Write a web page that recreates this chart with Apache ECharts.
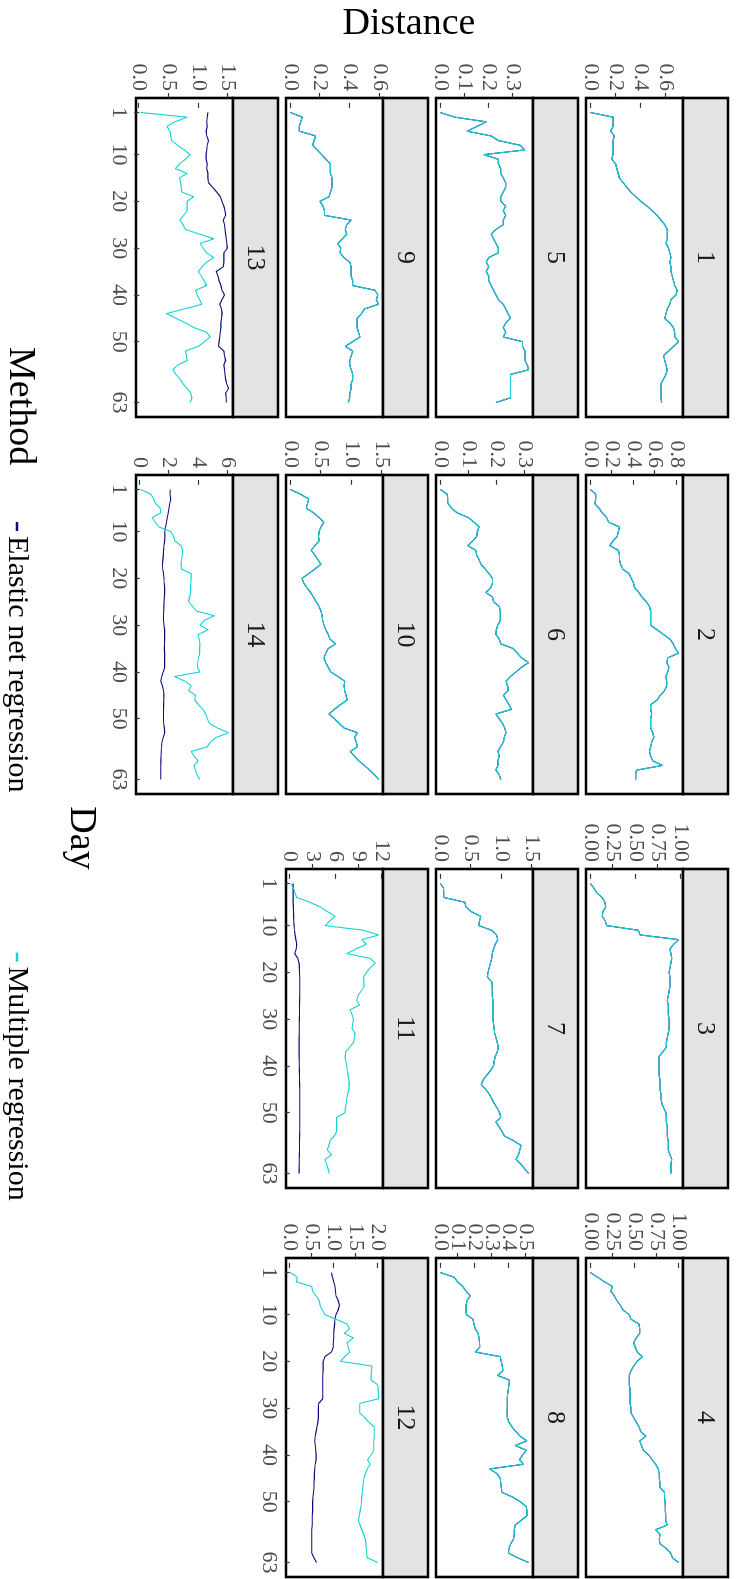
<!DOCTYPE html>
<html>
<head>
<meta charset="utf-8">
<script src="https://cdn.jsdelivr.net/npm/echarts@6/dist/echarts.min.js"></script>
<style>
  html, body { margin: 0; padding: 0; background: #fff; overflow: hidden; }
  #page { width: 736px; height: 1579px; position: relative; overflow: hidden; }
  /* the figure is drawn landscape, then turned a quarter clockwise */
  #chart {
    position: absolute; left: 0; top: 0;
    width: 1579px; height: 736px;
    transform-origin: 0 0;
    transform: translateX(736px) rotate(90deg);
  }
</style>
</head>
<body>
<div id="page"><div id="chart"></div></div>
<script>
    const days = Array.from({length: 63}, (_, i) => i + 1)
    const dayTicks = [1, 10, 20, 30, 40, 50, 63]
    const panelNames = ['1', '2', '3', '4', '5', '6', '7', '8', '9', '10', '11', '12', '13', '14']
    const yTicks = [
        [0, 0.2, 0.4, 0.6], [0, 0.2, 0.4, 0.6, 0.8], [0, 0.25, 0.5, 0.75, 1], [0, 0.25, 0.5, 0.75, 1],
        [0, 0.1, 0.2, 0.3], [0, 0.1, 0.2, 0.3], [0, 0.5, 1, 1.5], [0, 0.1, 0.2, 0.3, 0.4, 0.5],
        [0, 0.2, 0.4, 0.6], [0, 0.5, 1, 1.5], [0, 3, 6, 9, 12], [0, 0.5, 1, 1.5, 2],
        [0, 0.5, 1, 1.5], [0, 2, 4, 6]
    ]
    const yDecimals = [1, 1, 2, 2, 1, 1, 1, 1, 1, 1, 0, 1, 1, 0]

    // Multiple regression, one array per district
    const multiple1 = [0.00, 0.18, 0.18, 0.18, 0.16, 0.19, 0.18, 0.18, 0.18, 0.18,
        0.17, 0.20, 0.21, 0.22, 0.23, 0.26, 0.29, 0.32, 0.36, 0.40,
        0.45, 0.49, 0.53, 0.56, 0.59, 0.61, 0.61, 0.61, 0.60, 0.62,
        0.63, 0.64, 0.63, 0.64, 0.64, 0.65, 0.66, 0.67, 0.69, 0.68,
        0.64, 0.63, 0.61, 0.60, 0.59, 0.63, 0.66, 0.67, 0.67, 0.70,
        0.66, 0.62, 0.58, 0.59, 0.60, 0.61, 0.60, 0.58, 0.56, 0.56,
        0.56, 0.56, 0.565]
    const multiple2 = [0.00, 0.05, 0.05, 0.04, 0.08, 0.11, 0.15, 0.17, 0.27, 0.26,
        0.25, 0.21, 0.18, 0.26, 0.27, 0.27, 0.28, 0.30, 0.36, 0.38,
        0.40, 0.41, 0.45, 0.48, 0.52, 0.55, 0.56, 0.56, 0.56, 0.56,
        0.62, 0.68, 0.74, 0.77, 0.79, 0.82, 0.72, 0.71, 0.73, 0.72,
        0.70, 0.71, 0.71, 0.69, 0.65, 0.62, 0.56, 0.56, 0.57, 0.56,
        0.56, 0.56, 0.58, 0.59, 0.57, 0.56, 0.55, 0.56, 0.58, 0.67,
        0.43, 0.42, 0.42]
    const multiple3 = [0.00, 0.04, 0.07, 0.13, 0.16, 0.17, 0.14, 0.13, 0.165, 0.18,
        0.53, 0.55, 0.975, 0.92, 0.88, 0.89, 0.90, 0.89, 0.88, 0.87,
        0.88, 0.88, 0.88, 0.87, 0.86, 0.85, 0.86, 0.86, 0.86, 0.87,
        0.87, 0.87, 0.86, 0.85, 0.84, 0.84, 0.80, 0.76, 0.76, 0.76,
        0.76, 0.76, 0.77, 0.77, 0.77, 0.78, 0.78, 0.79, 0.81, 0.835,
        0.84, 0.84, 0.85, 0.85, 0.85, 0.86, 0.86, 0.86, 0.88, 0.90,
        0.89, 0.89, 0.89]
    const multiple4 = [0.00, 0.08, 0.16, 0.25, 0.23, 0.27, 0.30, 0.34, 0.37, 0.44,
        0.46, 0.55, 0.56, 0.56, 0.52, 0.49, 0.51, 0.53, 0.59, 0.53,
        0.49, 0.46, 0.44, 0.44, 0.44, 0.45, 0.45, 0.45, 0.45, 0.46,
        0.46, 0.49, 0.52, 0.55, 0.57, 0.63, 0.56, 0.58, 0.60, 0.66,
        0.70, 0.74, 0.77, 0.78, 0.78, 0.79, 0.79, 0.84, 0.84, 0.845,
        0.85, 0.85, 0.855, 0.855, 0.87, 0.74, 0.79, 0.78, 0.79, 0.86,
        0.91, 0.93, 1.00]
    const multiple5 = [0.00, 0.06, 0.19, 0.15, 0.11, 0.21, 0.24, 0.33, 0.35, 0.18,
        0.24, 0.24, 0.25, 0.25, 0.26, 0.27, 0.27, 0.26, 0.25, 0.25,
        0.27, 0.26, 0.27, 0.26, 0.26, 0.23, 0.21, 0.22, 0.23, 0.24,
        0.24, 0.20, 0.19, 0.20, 0.19, 0.20, 0.20, 0.21, 0.22, 0.23,
        0.24, 0.26, 0.27, 0.28, 0.29, 0.27, 0.26, 0.27, 0.26, 0.34,
        0.34, 0.35, 0.35, 0.35, 0.36, 0.365, 0.29, 0.29, 0.29, 0.29,
        0.29, 0.29, 0.23]
    const multiple6 = [0.00, 0.024, 0.026, 0.027, 0.04, 0.06, 0.10, 0.12, 0.138, 0.132,
        0.13, 0.115, 0.098, 0.126, 0.13, 0.138, 0.145, 0.16, 0.174, 0.186,
        0.186, 0.18, 0.162, 0.186, 0.19, 0.21, 0.214, 0.214, 0.214, 0.205,
        0.20, 0.198, 0.21, 0.216, 0.26, 0.275, 0.29, 0.315, 0.29, 0.27,
        0.25, 0.234, 0.24, 0.242, 0.225, 0.235, 0.245, 0.254, 0.198, 0.21,
        0.222, 0.23, 0.234, 0.228, 0.225, 0.215, 0.206, 0.21, 0.205, 0.206,
        0.198, 0.21, 0.216]
    const multiple7 = [0.00, 0.05, 0.055, 0.06, 0.40, 0.42, 0.50, 0.66, 0.64, 0.63,
        0.84, 0.92, 0.94, 0.90, 0.87, 0.85, 0.84, 0.82, 0.80, 0.78,
        0.77, 0.84, 0.85, 0.85, 0.85, 0.86, 0.86, 0.86, 0.86, 0.86,
        0.87, 0.88, 0.89, 0.91, 0.93, 0.95, 0.93, 0.90, 0.88, 0.87,
        0.82, 0.76, 0.70, 0.67, 0.74, 0.80, 0.84, 0.88, 0.93, 0.97,
        0.99, 0.91, 0.96, 1.01, 1.05, 1.20, 1.32, 1.30, 1.28, 1.24,
        1.32, 1.38, 1.445]
    const multiple8 = [0.00, 0.08, 0.10, 0.13, 0.15, 0.174, 0.155, 0.15, 0.15, 0.151,
        0.19, 0.195, 0.203, 0.22, 0.225, 0.228, 0.229, 0.203, 0.349, 0.355,
        0.36, 0.364, 0.333, 0.403, 0.40, 0.395, 0.392, 0.39, 0.39, 0.39,
        0.388, 0.39, 0.40, 0.417, 0.44, 0.465, 0.504, 0.436, 0.50, 0.48,
        0.461, 0.484, 0.287, 0.33, 0.349, 0.352, 0.355, 0.359, 0.42, 0.465,
        0.50, 0.505, 0.504, 0.47, 0.436, 0.43, 0.43, 0.426, 0.41, 0.40,
        0.397, 0.45, 0.514]
    const multiple9 = [0.00, 0.08, 0.07, 0.06, 0.06, 0.17, 0.16, 0.15, 0.18, 0.21,
        0.24, 0.27, 0.27, 0.27, 0.28, 0.28, 0.28, 0.27, 0.26, 0.20,
        0.22, 0.23, 0.23, 0.41, 0.38, 0.37, 0.38, 0.35, 0.32, 0.34,
        0.335, 0.36, 0.40, 0.41, 0.41, 0.41, 0.42, 0.42, 0.57, 0.59,
        0.58, 0.595, 0.50, 0.48, 0.45, 0.45, 0.45, 0.46, 0.47, 0.42,
        0.37, 0.42, 0.41, 0.40, 0.40, 0.41, 0.42, 0.42, 0.41, 0.41,
        0.40, 0.40, 0.39]
    const multiple10 = [0.00, 0.16, 0.30, 0.28, 0.26, 0.38, 0.47, 0.55, 0.50, 0.47,
        0.46, 0.47, 0.40, 0.34, 0.40, 0.45, 0.50, 0.40, 0.30, 0.19,
        0.22, 0.27, 0.33, 0.38, 0.42, 0.47, 0.50, 0.52, 0.53, 0.55,
        0.58, 0.62, 0.65, 0.74, 0.62, 0.58, 0.55, 0.58, 0.62, 0.66,
        0.78, 0.89, 0.88, 0.89, 0.91, 0.93, 0.82, 0.72, 0.63, 0.72,
        0.80, 0.88, 1.10, 1.05, 1.08, 1.10, 0.98, 1.05, 1.12, 1.21,
        1.30, 1.38, 1.445]
    const multiple11 = [0.09, 0.50, 0.70, 0.90, 2.62, 3.95, 4.90, 5.90, 5.20, 4.60,
        9.61, 11.57, 9.39, 9.96, 8.60, 7.42, 10.48, 11.14, 10.50, 10.00,
        9.61, 9.65, 9.69, 9.30, 8.90, 8.73, 9.08, 7.86, 8.10, 8.30,
        8.20, 8.10, 8.52, 8.40, 8.30, 7.80, 7.30, 7.21, 7.30, 7.42,
        7.50, 7.60, 7.70, 7.77, 7.70, 7.55, 7.42, 7.35, 7.25, 7.21,
        6.11, 6.11, 6.11, 6.11, 5.80, 5.24, 5.10, 4.89, 5.46, 4.59,
        4.80, 5.00, 5.15]
    const multiple12 = [0.015, 0.17, 0.15, 0.50, 0.52, 0.60, 0.67, 0.69, 0.74, 0.80,
        1.05, 1.30, 1.36, 1.24, 1.45, 1.30, 1.33, 1.36, 1.25, 1.15,
        1.87, 1.86, 1.85, 1.85, 2.00, 2.01, 2.02, 2.02, 1.59, 1.59,
        1.59, 1.70, 1.80, 1.92, 1.92, 1.92, 1.91, 1.91, 1.91, 1.85,
        1.77, 1.83, 1.76, 1.72, 1.69, 1.67, 1.66, 1.65, 1.64, 1.63,
        1.62, 1.60, 1.58, 1.56, 1.60, 1.64, 1.68, 1.72, 1.73, 1.74,
        1.75, 1.76, 2.00]
    const multiple13 = [0.02, 0.81, 0.60, 0.47, 0.52, 0.53, 0.55, 0.65, 0.76, 0.86,
        0.78, 0.68, 0.61, 0.81, 0.68, 0.70, 0.71, 0.72, 0.92, 0.81,
        0.81, 0.81, 0.75, 0.69, 0.74, 0.78, 1.02, 1.26, 1.03, 1.08,
        1.14, 1.26, 1.14, 1.06, 1.00, 1.05, 1.10, 1.14, 0.95, 0.98,
        1.02, 1.06, 0.76, 0.46, 0.62, 0.78, 0.93, 1.14, 1.20, 1.10,
        1.00, 0.78, 0.80, 0.81, 0.65, 0.57, 0.62, 0.69, 0.74, 0.81,
        0.87, 0.89, 0.86]
    const multiple14 = [0.05, 0.75, 0.95, 1.08, 1.40, 1.43, 0.85, 1.05, 1.32, 2.12,
        2.31, 2.40, 2.80, 2.93, 2.90, 2.85, 2.82, 2.83, 3.51, 3.50,
        3.48, 3.47, 3.46, 3.40, 3.33, 3.60, 3.86, 5.08, 4.40, 4.09,
        4.67, 3.97, 4.05, 4.10, 4.08, 4.09, 4.00, 3.95, 3.93, 4.09,
        2.36, 3.10, 3.51, 3.33, 3.80, 3.75, 4.00, 4.30, 4.50, 4.60,
        4.75, 5.30, 6.05, 5.20, 4.80, 4.60, 3.51, 3.70, 3.97, 3.70,
        3.80, 3.90, 4.09]

    // Elastic net: panels 1-10 lie on top of the multiple regression line
    const elastic11 = [0.44, 0.44, 0.44, 0.44, 0.45, 0.47, 0.49, 0.51, 0.53, 0.58,
        0.63, 0.70, 0.80, 0.92, 0.85, 0.65, 1.05, 1.22, 1.26, 1.28,
        1.30, 1.31, 1.31, 1.30, 1.30, 1.29, 1.28, 1.28, 1.27, 1.26,
        1.25, 1.24, 1.24, 1.23, 1.22, 1.22, 1.22, 1.23, 1.24, 1.25,
        1.26, 1.27, 1.28, 1.29, 1.30, 1.30, 1.31, 1.31, 1.31, 1.31,
        1.31, 1.31, 1.30, 1.30, 1.29, 1.28, 1.28, 1.27, 1.26, 1.25,
        1.24, 1.23, 1.22]
    const elastic12 = [0.95, 0.97, 1.00, 1.03, 1.04, 1.05, 1.10, 1.13, 1.10, 1.05,
        1.03, 1.02, 1.01, 1.00, 1.00, 0.99, 0.99, 0.95, 0.80, 0.76,
        0.76, 0.76, 0.75, 0.75, 0.75, 0.75, 0.75, 0.75, 0.66, 0.65,
        0.65, 0.65, 0.64, 0.62, 0.60, 0.58, 0.57, 0.58, 0.59, 0.60,
        0.60, 0.58, 0.57, 0.56, 0.56, 0.55, 0.55, 0.54, 0.53, 0.52,
        0.52, 0.52, 0.51, 0.51, 0.51, 0.50, 0.50, 0.50, 0.50, 0.50,
        0.50, 0.55, 0.61]
    const elastic13 = [1.16, 1.15, 1.14, 1.15, 1.13, 1.14, 1.17, 1.15, 1.14, 1.13,
        1.13, 1.15, 1.14, 1.16, 1.16, 1.17, 1.24, 1.31, 1.37, 1.40,
        1.43, 1.45, 1.46, 1.42, 1.44, 1.45, 1.46, 1.47, 1.48, 1.49,
        1.43, 1.43, 1.43, 1.42, 1.30, 1.33, 1.35, 1.38, 1.40, 1.44,
        1.40, 1.36, 1.39, 1.40, 1.39, 1.38, 1.38, 1.37, 1.36, 1.35,
        1.34, 1.43, 1.44, 1.46, 1.43, 1.44, 1.45, 1.46, 1.48, 1.51,
        1.46, 1.47, 1.47]
    const elastic14 = [2.08, 2.06, 2.12, 2.05, 2.00, 1.94, 1.88, 1.82, 1.76, 1.71,
        1.72, 1.70, 1.66, 1.63, 1.61, 1.58, 1.55, 1.57, 1.62, 1.66,
        1.67, 1.70, 1.71, 1.68, 1.66, 1.65, 1.64, 1.62, 1.62, 1.66,
        1.70, 1.71, 1.70, 1.69, 1.68, 1.70, 1.71, 1.70, 1.71, 1.60,
        1.50, 1.43, 1.55, 1.62, 1.66, 1.64, 1.63, 1.62, 1.62, 1.62,
        1.64, 1.68, 1.71, 1.60, 1.52, 1.48, 1.47, 1.45, 1.44, 1.43,
        1.43, 1.43, 1.43]

    const multipleReg = [multiple1, multiple2, multiple3, multiple4, multiple5, multiple6, multiple7,
        multiple8, multiple9, multiple10, multiple11, multiple12, multiple13, multiple14]
    const elasticNet = [multiple1, multiple2, multiple3, multiple4, multiple5, multiple6, multiple7,
        multiple8, multiple9, multiple10, elastic11, elastic12, elastic13, elastic14]

    const FONT = '"Liberation Serif", "DejaVu Serif", serif'
    const NAVY = '#0c0c78'
    const CYAN = '#14d2d6'
    const colLeft = [98, 475, 869, 1258]
    const rowTop = [8, 158, 308, 458]
    const panelW = 319, stripH = 45, plotH = 97

    let grids = [], xAxes = [], yAxes = [], series = [], graphics = []

    multipleReg.forEach((mr, i) => {
        let row = Math.floor(i / 4), col = i % 4
        let showDays = i >= 10
        grids.push({
            left: colLeft[col], top: rowTop[row] + stripH, width: panelW, height: plotH,
            show: true, backgroundColor: '#fff', borderColor: '#000', borderWidth: 2.6
        })
        let all = mr.concat(elasticNet[i])
        let lo = Math.min(...all), hi = Math.max(...all), pad = (hi - lo) * 0.05
        xAxes.push({
            type: 'value', gridIndex: i, min: 1 - 3.1, max: 63 + 3.1,
            splitLine: {show: false}, axisLine: {show: false},
            axisTick: {show: showDays, length: 5, customValues: dayTicks, lineStyle: {color: '#333', width: 1.2}},
            axisLabel: {show: showDays, customValues: dayTicks, margin: 6, color: '#4d4d4d', fontSize: 22, fontFamily: FONT,
                showMinLabel: true, showMaxLabel: true, hideOverlap: false}
        })
        // the tick labels are crowded, so they are split over two stacked axes
        // (ECharts drops overlapping labels on a single axis)
        let evenTicks = yTicks[i].filter((_, k) => k % 2 === 0)
        let oddTicks = yTicks[i].filter((_, k) => k % 2 === 1)
        ;[evenTicks, oddTicks].forEach(ticks => {
            yAxes.push({
                type: 'value', gridIndex: i, position: 'left', offset: 0, min: lo - pad, max: hi + pad,
                splitLine: {show: false}, axisLine: {show: false},
                axisTick: {show: true, length: 5, customValues: ticks, lineStyle: {color: '#333', width: 1.2}},
                axisLabel: {
                    customValues: ticks, margin: 7, color: '#4d4d4d', fontSize: 22, fontFamily: FONT,
                    showMinLabel: true, showMaxLabel: true, hideOverlap: false,
                    formatter: v => Number(v).toFixed(yDecimals[i])
                }
            })
        })
        let yIdx = 2 * i
        series.push({
            name: 'Elastic net regression', type: 'line', xAxisIndex: i, yAxisIndex: yIdx,
            data: days.map((d, k) => [d, elasticNet[i][k]]),
            showSymbol: false, z: 2,
            lineStyle: {color: NAVY, width: 1.1}, itemStyle: {color: NAVY}
        })
        series.push({
            name: 'Multiple regression', type: 'line', xAxisIndex: i, yAxisIndex: yIdx,
            data: days.map((d, k) => [d, mr[k]]),
            showSymbol: false, z: 3,
            lineStyle: {color: CYAN, width: 1.1}, itemStyle: {color: CYAN}
        })
        // facet strip
        graphics.push({
            type: 'rect', shape: {x: colLeft[col], y: rowTop[row], width: panelW, height: stripH},
            style: {fill: '#e3e3e3', stroke: '#000', lineWidth: 2.6}
        })
        graphics.push({
            type: 'text', x: colLeft[col] + panelW / 2, y: rowTop[row] + stripH / 2 + 1,
            style: {text: panelNames[i], fontSize: 26, fontFamily: FONT, fill: '#1a1a1a', align: 'center', verticalAlign: 'middle'}
        })
    })

    graphics.push({
        type: 'text', x: 24, y: 327, rotation: Math.PI / 2,
        style: {text: 'Distance', fontSize: 38, fontFamily: FONT, fill: '#000', align: 'center', verticalAlign: 'middle'}
    })
    graphics.push({
        type: 'text', x: 838, y: 655,
        style: {text: 'Day', fontSize: 38, fontFamily: FONT, fill: '#000', align: 'center', verticalAlign: 'middle'}
    })
    graphics.push({
        type: 'text', x: 347, y: 716,
        style: {text: 'Method', fontSize: 38, fontFamily: FONT, fill: '#000', align: 'left', verticalAlign: 'middle'}
    })

    let chart = echarts.init(document.getElementById('chart'), null, {renderer: 'canvas', width: 1579, height: 736})
    chart.setOption({
        animation: false,
        backgroundColor: '#fff',
        grid: grids,
        xAxis: xAxes,
        yAxis: yAxes,
        legend: {
            data: ['Elastic net regression', 'Multiple regression'],
            left: 517, top: 699, orient: 'horizontal',
            icon: 'rect', itemWidth: 9, itemHeight: 2.5, itemGap: 160,
            selectedMode: false,
            textStyle: {fontSize: 30, fontFamily: FONT, color: '#000'}
        },
        graphic: graphics,
        series: series
    })
</script>
</body>
</html>
